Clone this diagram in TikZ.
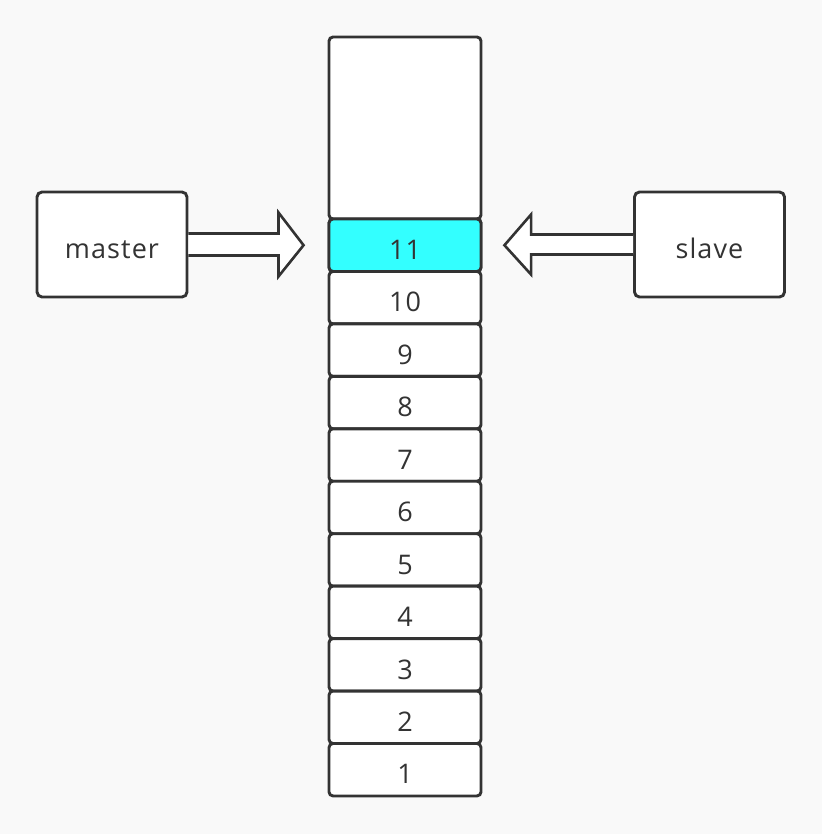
\documentclass[tikz,border=0pt]{standalone}
\usepackage{fontspec}
\setmainfont{Open Sans}[LetterSpace=4]
\usetikzlibrary{calc}
\definecolor{bg}{HTML}{F9F9F9}
\definecolor{ink}{HTML}{333333}
\definecolor{hl}{HTML}{33FFFF}
\begin{document}
\begin{tikzpicture}[x=1pt,y=-1pt,
  lbl/.style={text=ink,font=\fontsize{27}{27}\selectfont,text height=28.5pt,text depth=0pt},
  cellbox/.style={lbl,draw=ink,line width=2.9pt,fill=white,rounded corners=4pt,minimum width=152pt,minimum height=52.45pt,inner sep=0pt},
  sidebox/.style={lbl,draw=ink,line width=2.9pt,fill=white,rounded corners=5pt,minimum width=150pt,minimum height=105pt,inner sep=0pt},
  fatarrow/.style={draw=ink,line width=2.6pt,fill=white,line join=miter}]
\useasboundingbox[fill=bg] (0,0) rectangle (822,834);
\node[cellbox,minimum height=182pt] (top) at (405,128) {};
\foreach \i in {11,...,1}{
  \pgfmathsetmacro{\yc}{219+52.45*(11-\i)+26.225}
  \node[cellbox] (c\i) at (405,\yc) {\i};
}
\node[cellbox,fill=hl] at (c11) {11};
\node[sidebox] (master) at (112,244.5) {master};
\node[sidebox] (slave) at (709.5,244.5) {slave};
% master arrow
\draw[fatarrow] ($(master.east)+(0,-11)$) -- ++(90,0) -- ++(0,-21) -- ($(c11.west)+(-24,0)$) -- ($(master.east)+(90,32)$) -- ++(0,-21) -- ($(master.east)+(0,11)$);
% slave arrow
\draw[fatarrow] ($(slave.west)+(0,-10)$) -- ++(-102,0) -- ++(0,-20) -- ($(c11.east)+(22,0)$) -- ($(slave.west)+(-102,30)$) -- ++(0,-20) -- ($(slave.west)+(0,10)$);
\end{tikzpicture}
\end{document}
